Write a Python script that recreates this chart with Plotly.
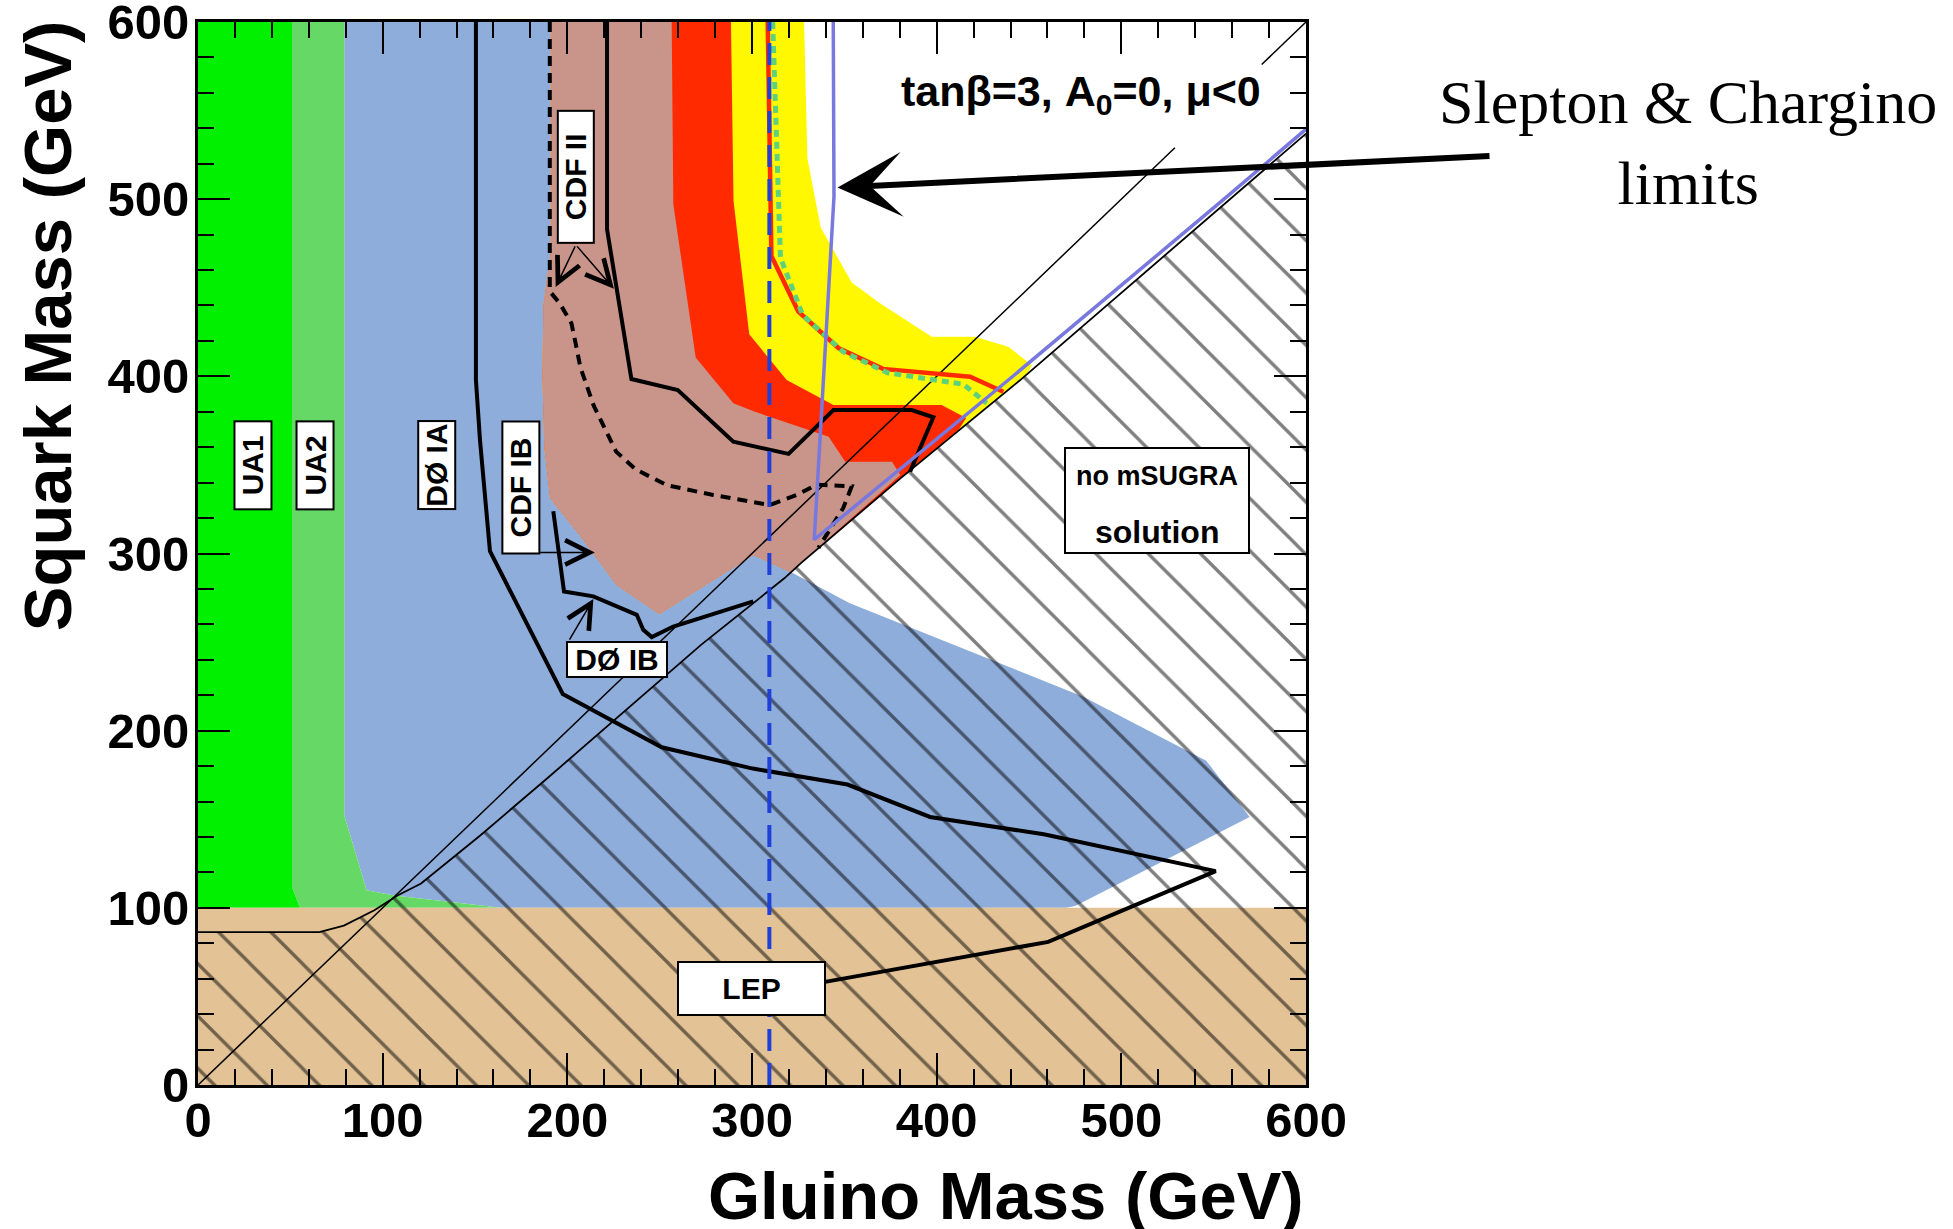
import plotly.graph_objects as go

# ---------------- data (GeV) ----------------
# UA1 excluded region
ua1_x = [0, 50.9, 50.9, 55.2, 0]
ua1_y = [600, 600, 111.8, 100, 100]
# UA2 excluded region
ua2_x = [50.9, 79.2, 79.2, 91.3, 106.3, 135.2, 164, 55.2, 50.9]
ua2_y = [600, 600, 152.3, 109.9, 107, 103.3, 100, 100, 111.8]
# DØ IA excluded region (blue)
d0ia_x = [79.2, 191, 191, 187, 186.5, 187.5, 190.6, 206.9, 226.7, 249.8, 300.7, 321.5, 353,
          479.4, 546, 569.5, 475, 470, 164, 135.2, 106.3, 91.3, 79.2]
d0ia_y = [600, 600, 470, 440, 400, 360, 331.3, 310, 282.2, 265.8, 299.2, 289.3, 271.9,
          219.2, 183, 151.3, 101, 100, 100, 103.3, 107, 109.9, 152.3]
# LEP excluded band
lep_x = [0, 600, 600, 0]
lep_y = [0, 0, 100, 100]

# Run II reach: common left/bottom edge
run2_left_x = [191, 191, 187, 186.5, 187.5, 190.6, 206.9, 226.7, 249.8, 300.7, 321.5, 326.5]
run2_left_y = [600, 470, 440, 400, 360, 331.3, 310, 282.2, 265.8, 299.2, 289.3, 294.6]
# outer edges (from the no-solution boundary up to the top)
brown_edge_x = [380.3, 375.8, 350.5, 341.5, 301.6, 289.9, 269.5, 257.4, 256.5]
brown_edge_y = [344.3, 351.8, 351.8, 365.9, 380, 384.8, 410.7, 497, 600]
red_edge_x = [380.7, 412, 416, 402.7, 344.1, 318.8, 298.5, 290, 288.6]
red_edge_y = [342.7, 370, 376.5, 383.8, 383.8, 397.9, 423.7, 499, 600]
yellow_edge_x = [380.7, 445.7, 450, 451.4, 438.8, 420.7, 397.3, 369.3, 354, 337.2, 330, 328.2]
yellow_edge_y = [342.7, 398.3, 403, 406.4, 416.7, 422.4, 422.4, 441.2, 452.9, 484, 523, 600]

# no mSUGRA solution boundary
nosol_x = [0, 65.7, 79, 95.5, 108, 120.8, 153, 189, 272.4, 317.5, 326.5, 380.7, 445.7, 560.3, 600]
nosol_y = [86.3, 86.3, 90, 98.6, 107, 113.7, 141, 173, 248.4, 286, 294.6, 342.7, 398.3, 501, 537]

# limit curves
diag1_x = [0, 529]; diag1_y = [0, 529]
diag2_x = [576, 600]; diag2_y = [576, 600]
d0ia_lim_x = [150.5, 150.5, 152.7, 158.1, 197.5, 251.1, 300.4, 351.7, 396.4, 458, 551.1, 460.4, 339.6]
d0ia_lim_y = [600, 398, 364, 301.3, 220.7, 190.6, 178.6, 169.6, 151.3, 141.5, 120.7, 80.8, 58.2]
d0ib_lim_x = [192.4, 198.2, 214.1, 237.6, 241.1, 245.7, 257.4, 300.7]
d0ib_lim_y = [323.8, 278.6, 275.8, 265.4, 257, 252.8, 258.8, 273]
cdf2_lim_x = [221.5, 221.5, 234.7, 259.8, 289.9, 319.8, 344.1, 386.5, 398.2, 385.6]
cdf2_lim_y = [600, 483, 398.5, 392.3, 363.1, 356.2, 381, 381, 376.9, 346.2]
cdf2_dash_x = [190.5, 190.5, 196, 202.2, 204.6, 207.1, 214.3, 226.4, 237, 253.8, 279, 309.7,
               324.2, 335, 354, 349.4, 336]
cdf2_dash_y = [600, 448, 441, 430, 418, 405, 383.4, 357.5, 347.5, 338.6, 333, 327.4,
               333, 338.9, 337.9, 325.7, 303.2]
vline_x = [309.4, 309.4]; vline_y = [0, 600]
red_lim_x = [308.5, 310.5, 325, 346.8, 370.9, 400.9, 418.1, 436.1]
red_lim_y = [600, 468, 436.7, 416, 404.2, 401.7, 399.8, 391.3]
green_lim_x = [311.2, 315.4, 327.5, 349.3, 373.4, 387.3, 405.4, 414.5, 427.1]
green_lim_y = [600, 467, 434.5, 413.9, 402, 399.8, 397, 395.5, 384.8]
slep_x = [344, 344.4, 333.7, 440.3, 556.7, 600]
slep_y = [600, 501.6, 307.8, 399.2, 501, 539.5]

# ---------------- figure ----------------
fig = go.Figure()

def region(x, y, color):
    fig.add_trace(go.Scatter(x=x, y=y, fill='toself', fillcolor=color, mode='lines',
                             line=dict(width=0, color=color), hoverinfo='skip'))

def curve(x, y, color, width, dash='solid'):
    fig.add_trace(go.Scatter(x=x, y=y, mode='lines', hoverinfo='skip',
                             line=dict(color=color, width=width, dash=dash)))

region(d0ia_x, d0ia_y, '#8FADDB')
region(ua2_x, ua2_y, '#66D866')
region(ua1_x, ua1_y, '#00F000')
region(lep_x, lep_y, '#E3C396')
region(run2_left_x + yellow_edge_x, run2_left_y + yellow_edge_y, '#FFF800')
region(run2_left_x + red_edge_x, run2_left_y + red_edge_y, '#FF2A00')
region(run2_left_x + brown_edge_x, run2_left_y + brown_edge_y, '#C9958B')

# hatched "no mSUGRA solution" region
fig.add_trace(go.Scatter(x=nosol_x + [600, 0], y=nosol_y + [0, 0], fill='toself',
                         fillcolor='rgba(0,0,0,0)', mode='lines', line=dict(width=0),
                         fillpattern=dict(shape='\\', fgcolor='black', bgcolor='rgba(0,0,0,0)',
                                          size=37, solidity=0.09),
                         hoverinfo='skip'))

curve(nosol_x, nosol_y, 'black', 1.8)
curve(diag1_x, diag1_y, 'black', 1.5)
curve(diag2_x, diag2_y, 'black', 1.5)
curve(d0ia_lim_x, d0ia_lim_y, 'black', 4)
curve(d0ib_lim_x, d0ib_lim_y, 'black', 4)
curve(cdf2_lim_x, cdf2_lim_y, 'black', 4)
curve(cdf2_dash_x, cdf2_dash_y, 'black', 4, '10px,7px')
curve(red_lim_x, red_lim_y, '#FF2A00', 4.5)
curve(green_lim_x, green_lim_y, '#5DD27A', 5, '7px,5px')
curve(vline_x, vline_y, '#1F40D8', 4, '22px,12px')
curve(slep_x, slep_y, '#7878DE', 3.5)

lab_font = dict(family='Liberation Sans', size=30, color='black', weight='bold')

def box(text, x, y, w, h, angle=0, font=lab_font):
    return dict(x=x, y=y, xref='x', yref='y', text=text, showarrow=False, font=font,
                bgcolor='white', bordercolor='black', borderwidth=2, borderpad=0,
                width=w, height=h, textangle=angle, xanchor='center', yanchor='middle')

def arrow(x, y, ax, ay):
    return dict(x=x, y=y, ax=ax, ay=ay, xref='x', yref='y', axref='x', ayref='y', text='',
                showarrow=True, arrowhead=5, arrowsize=3.2, arrowwidth=1.5, arrowcolor='black',
                standoff=0, startstandoff=0)

annotations = [
    box('UA1', 30, 350, 86, 35, -90),
    box('UA2', 63.6, 350, 86, 35, -90),
    box('DØ IA', 129.5, 350, 86, 35, -90),
    box('CDF IB', 174.6, 337.5, 130, 35, -90),
    box('CDF II', 204.6, 512.5, 130, 34, -90),
    box('DØ IB', 227.1, 240.2, 98, 33),
    box('LEP', 299.7, 54.7, 145, 51),
    box('', 519.5, 330, 182, 103),
    dict(x=519.5, y=343.5, xref='x', yref='y', text='no mSUGRA', showarrow=False,
         font=dict(family='Liberation Sans', size=27, color='black', weight='bold')),
    dict(x=519.5, y=312.1, xref='x', yref='y', text='solution', showarrow=False,
         font=dict(family='Liberation Sans', size=32, color='black', weight='bold')),
    arrow(193.7, 450.4, 204.6, 474.2),
    arrow(225.2, 449.4, 204.6, 474.2),
    arrow(214.9, 300.6, 184.5, 300.6),
    arrow(214.1, 274.3, 200.7, 250.6),
    dict(x=478, y=559.5, xref='x', yref='y', showarrow=False, xanchor='center', yanchor='middle',
         text='tanβ=3, A<sub>0</sub>=0, μ&lt;0',
         font=dict(family='Liberation Sans', size=43, color='black', weight='bold')),
    dict(x=346.3, y=506.6, xref='x', yref='y', ax=653.5, ay=-31.5, text='',
         showarrow=True, arrowhead=3, arrowsize=1.8, arrowwidth=6, arrowcolor='black',
         standoff=0, startstandoff=0),
    dict(x=1.3448, y=0.8871, xref='paper', yref='paper', xanchor='center', yanchor='middle',
         showarrow=False, text='Slepton &amp; Chargino<br>limits',
         font=dict(family='Liberation Serif', size=62, color='black')),
    dict(x=1.0, y=-0.1044, xref='paper', yref='paper', xanchor='right', yanchor='middle',
         showarrow=False, text='Gluino Mass (GeV)',
         font=dict(family='Liberation Sans', size=67, color='black', weight='bold')),
    dict(x=-0.1363, y=1.004, xref='paper', yref='paper', xanchor='center', yanchor='top',
         showarrow=False, text='Squark Mass (GeV)', textangle=-90,
         font=dict(family='Liberation Sans', size=67, color='black', weight='bold')),
]

def axis(standoff):
    return dict(range=[0, 600], showgrid=False, zeroline=False, showline=True,
                linecolor='black', linewidth=3, mirror='allticks', ticks='inside',
                ticklen=32, tickwidth=2, tickcolor='black', tick0=0, dtick=100,
                automargin=False, ticklabeloverflow='allow', ticklabelstandoff=standoff,
                minor=dict(ticks='inside', ticklen=16, tickwidth=2, dtick=20,
                           tickcolor='black', showgrid=False),
                tickfont=dict(family='Liberation Sans', size=49, color='black', weight='bold'))

fig.update_layout(width=1953, height=1229, margin=dict(l=198, r=647, t=22, b=144),
                  plot_bgcolor='white', paper_bgcolor='white', showlegend=False,
                  xaxis=axis(-10), yaxis=axis(-4), annotations=annotations)

fig.write_html('out.html', config={'displayModeBar': False},
               post_script="document.body.style.margin='0px';")
